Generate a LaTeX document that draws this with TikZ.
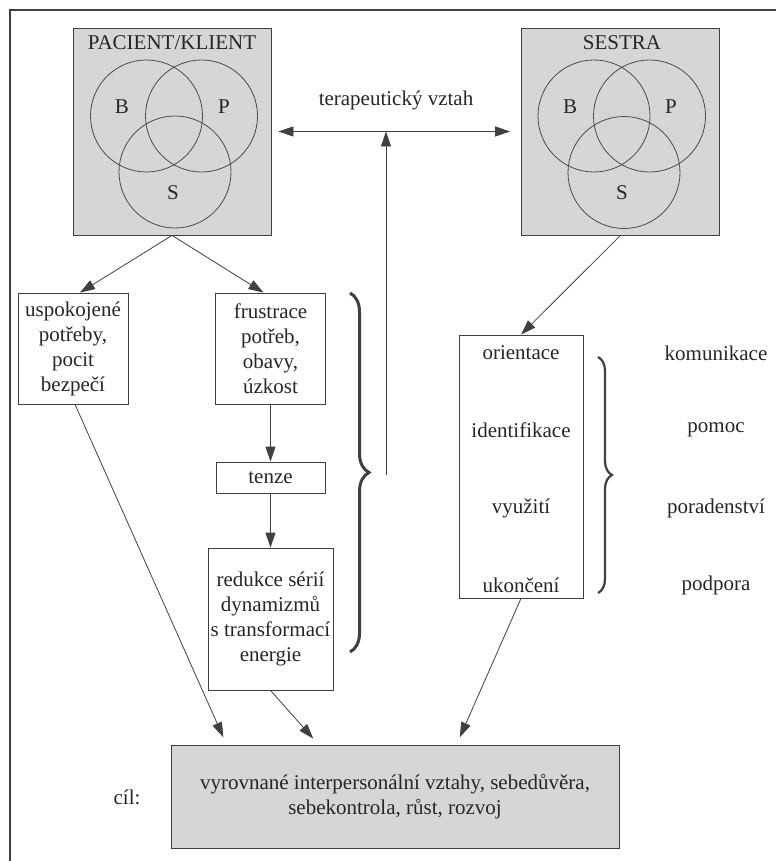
\documentclass[tikz,border=0pt]{standalone}
\usepackage{fontspec}
\setmainfont{Liberation Serif}
\usetikzlibrary{arrows.meta,decorations.pathreplacing}

\begin{document}
\begin{tikzpicture}[x=0.5pt, y=-0.5pt,
    every node/.style={font=\fontsize{10.5}{12.5}\selectfont, text=black!85},
    box/.style={draw=black!75, align=center, inner sep=0pt},
    person/.style={box, fill=black!16, minimum width=99pt, minimum height=103.5pt},
    ring/.style={draw=black!70, circle, minimum size=56pt, inner sep=0pt},
    arrow/.style={->, >={Triangle[length=7.5pt,width=5pt]}, draw=black!75},
    curly/.style={decorate, decoration={brace, amplitude=#1}, draw=black!75, line width=1.5pt}
]
    \useasboundingbox (0,0) rectangle (776,861);
    \draw[black!75, line width=1pt] (10,861) -- (10,10) -- (776,10);

    % pacient a sestra
    \node[person] (pacient) at (172,131.5) {};
    \node (pacTitle) at (172,43) {PACIENT/KLIENT};
    \node[ring] (pacB) at (146.5,116) {};
    \node[ring] (pacP) at (201.5,116) {};
    \node[ring] (pacS) at (175,172) {};
    \node (pacBl) at (122,107) {B};
    \node (pacPl) at (224,107) {P};
    \node (pacSl) at (173,193) {S};

    \node[person] (sestra) at (620.5,131.5) {};
    \node (sesTitle) at (622,43) {SESTRA};
    \node[ring] (sesB) at (594,116) {};
    \node[ring] (sesP) at (649.5,116) {};
    \node[ring] (sesS) at (624,172.5) {};
    \node (sesBl) at (570,107) {B};
    \node (sesPl) at (671,107) {P};
    \node (sesSl) at (622,193) {S};

    \node (vztah) at (396,100) {terapeutický vztah};

    % levá větev
    \node[box, minimum width=55pt, minimum height=55.5pt] (potreby) at (73,348.5) {uspokojené\\potřeby,\\pocit\\bezpečí};
    \node[box, minimum width=55pt, minimum height=55.5pt] (frustrace) at (270.5,348.5) {frustrace\\potřeb,\\obavy,\\úzkost};
    \node[box, minimum width=54.5pt, minimum height=15.5pt] (tenze) at (270.5,477.5) {tenze};
    \node[box, minimum width=62.5pt, minimum height=71pt] (redukce) at (270.5,619) {redukce sérií\\dynamizmů\\s transformací\\energie};

    % fáze vztahu
    \node[box, minimum width=62pt, minimum height=131.5pt] (faze) at (521,466.5) {};
    \node (orientace) at (521,353) {orientace};
    \node (identifikace) at (521,430) {identifikace};
    \node (vyuziti) at (521,508) {využití};
    \node (ukonceni) at (521,585) {ukončení};

    \node (komunikace) at (716,353) {komunikace};
    \node (pomoc) at (716,430) {pomoc};
    \node (poradenstvi) at (716,508) {poradenství};
    \node (podpora) at (716,585) {podpora};

    % cíl
    \node[box, fill=black!16, minimum width=224pt, minimum height=51.5pt] (cil) at (395,796.5) {vyrovnané interpersonální vztahy, sebedůvěra,\\sebekontrola, růst, rozvoj};
    \node (cilLabel) at (127,797) {cíl:};

    \draw[curly=9.5pt] (350,293) -- (350,652);
    \draw[curly=7pt, line width=1.1pt] (598,357) -- (598,593);
    \coordinate (vyvod) at (386,475);

    \draw[arrow, <->, shorten <=3.5pt, shorten >=5.5pt] (pacient.east) -- (sestra.west);
    \draw[arrow] (vyvod) -- (vyvod |- pacient.east);
    \draw[arrow] (pacient.south) -- ([xshift=3.5pt]potreby.north);
    \draw[arrow] (pacient.south) -- ([xshift=-3.5pt]frustrace.north);
    \draw[arrow] (frustrace) -- (tenze);
    \draw[arrow] (tenze) -- (redukce);
    \draw[arrow] (sestra.south) -- (faze.north);
    \draw[arrow, shorten >=4pt] ([xshift=1pt]potreby.south) -- ([xshift=28pt]cil.north west);
    \draw[arrow, shorten >=4pt] (redukce.south) -- ([xshift=74pt]cil.north west);
    \draw[arrow, shorten >=4pt] (faze.south) -- ([xshift=143pt]cil.north west);
\end{tikzpicture}
\end{document}
